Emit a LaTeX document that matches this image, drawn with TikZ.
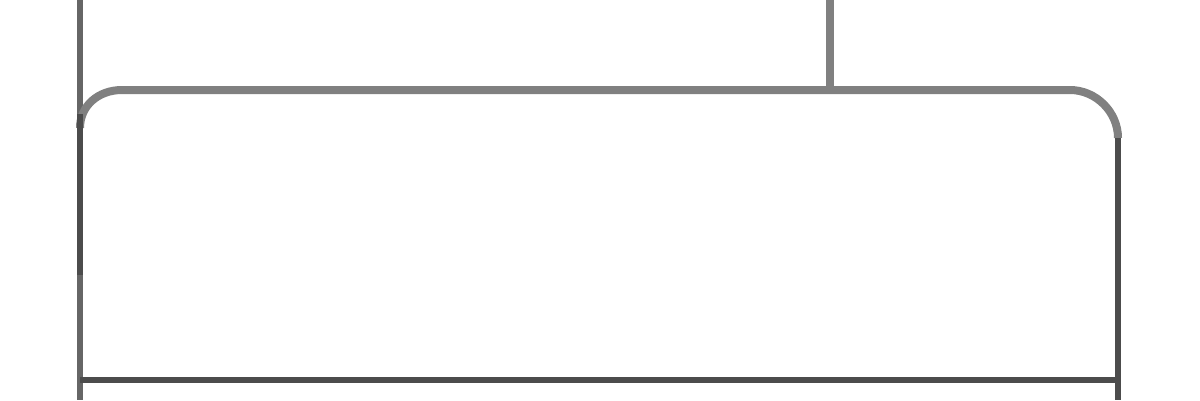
\documentclass[tikz,border=0pt]{standalone}
\begin{document}
\begin{tikzpicture}[x=1pt,y=-1pt,
  lightline/.style={draw=black!50,line width=8pt},
  midline/.style={draw=black!60,line width=6pt},
  darkline/.style={draw=black!70,line width=6pt}]
\useasboundingbox (0,0) rectangle (1200,400);
\fill[white] (0,0) rectangle (1200,400);
\draw[midline] (80,0) -- (80,400);
\draw[lightline] (830,0) -- (830,90);
\draw[lightline] (80,128) .. controls (80,106) and (98,90) .. (122,90) -- (1070,90) .. controls (1096,90) and (1118,112) .. (1118,138);
\draw[darkline] (80,114) -- (80,275);
\draw[darkline] (1118,138) -- (1118,400);
\draw[darkline] (80,380) -- (1118,380);
\end{tikzpicture}
\end{document}
